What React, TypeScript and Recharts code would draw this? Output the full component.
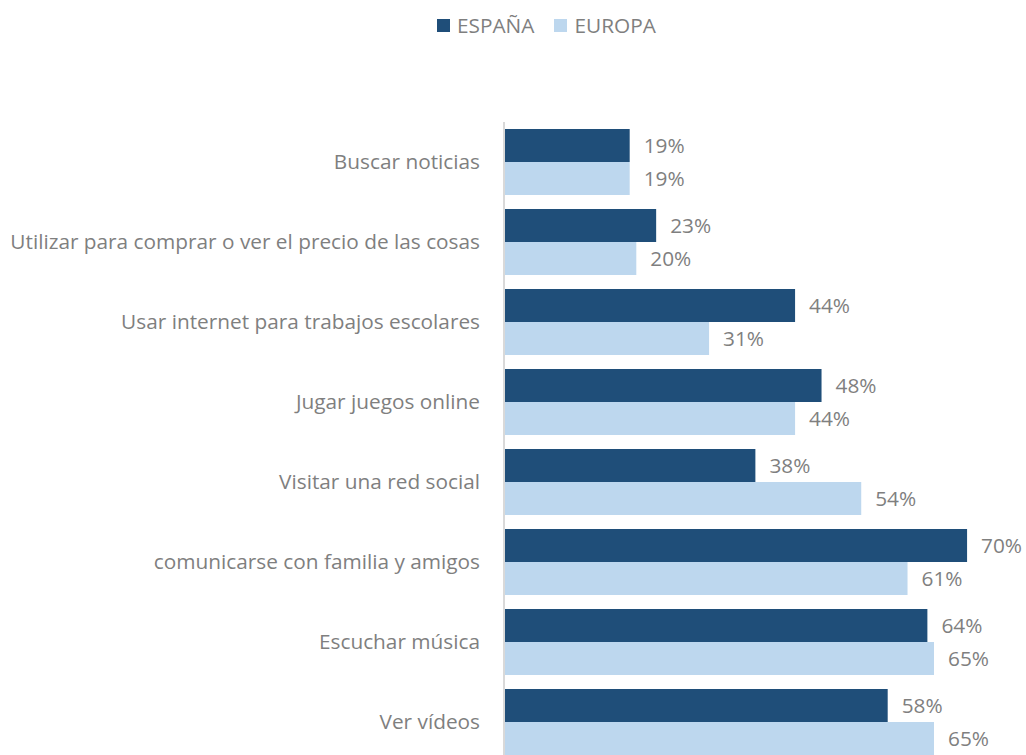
import { Bar, BarChart, LabelList, XAxis, YAxis } from "recharts";

const categories = [
  "Buscar noticias",
  "Utilizar para comprar o ver el precio de las cosas",
  "Usar internet para trabajos escolares",
  "Jugar juegos online",
  "Visitar una red social",
  "comunicarse con familia y amigos",
  "Escuchar música ",
  "Ver vídeos",
];
const espana = [19, 23, 44, 48, 38, 70, 64, 58];
const europa = [19, 20, 31, 44, 54, 61, 65, 65];

const data = categories.map((name, i) => ({
  name,
  espana: espana[i],
  europa: europa[i],
}));

const DARK = "#1F4E79";
const LIGHT = "#BDD7EE";
const TEXT = "#7F7F7F";
const FONT = "'Open Sans', Lato, sans-serif";
const SIZE = 20.8;

function LegendTop() {
  const items = [
    { label: "ESPAÑA", color: DARK },
    { label: "EUROPA", color: LIGHT },
  ];
  return (
    <div
      style={{
        position: "absolute",
        top: 11,
        left: 437,
        display: "flex",
        gap: 20,
        fontFamily: FONT,
        fontSize: SIZE,
        color: TEXT,
        lineHeight: "28px",
        whiteSpace: "nowrap",
      }}
    >
      {items.map((it) => (
        <div key={it.label} style={{ display: "flex", alignItems: "center", gap: 7 }}>
          <span style={{ width: 13, height: 13, background: it.color, display: "inline-block" }} />
          <span>{it.label}</span>
        </div>
      ))}
    </div>
  );
}

export default function App() {
  return (
    <div style={{ position: "absolute", left: 0, top: 0, width: 1026, height: 770, background: "#fff" }}>
      <LegendTop />
      <BarChart
        width={1026}
        height={770}
        data={data}
        layout="vertical"
        margin={{ top: 122, right: 6, bottom: 8, left: 0 }}
        barCategoryGap={7}
        barGap={0}
      >
        <XAxis type="number" domain={[0, 78]} hide />
        <YAxis
          type="category"
          dataKey="name"
          width={504}
          axisLine={{ stroke: "#D9D9D9", strokeWidth: 2 }}
          tickLine={false}
          tickSize={0}
          tickMargin={24}
          interval={0}
          tick={{ fill: TEXT, fontSize: SIZE, fontFamily: FONT }}
        />
        <Bar dataKey="espana" fill={DARK} barSize={33} isAnimationActive={false}>
          <LabelList
            dataKey="espana"
            position="right"
            offset={14}
            formatter={(v: number) => `${v}%`}
            style={{ fill: TEXT, fontSize: SIZE, fontFamily: FONT }}
          />
        </Bar>
        <Bar dataKey="europa" fill={LIGHT} barSize={33} isAnimationActive={false}>
          <LabelList
            dataKey="europa"
            position="right"
            offset={14}
            formatter={(v: number) => `${v}%`}
            style={{ fill: TEXT, fontSize: SIZE, fontFamily: FONT }}
          />
        </Bar>
      </BarChart>
    </div>
  );
}
